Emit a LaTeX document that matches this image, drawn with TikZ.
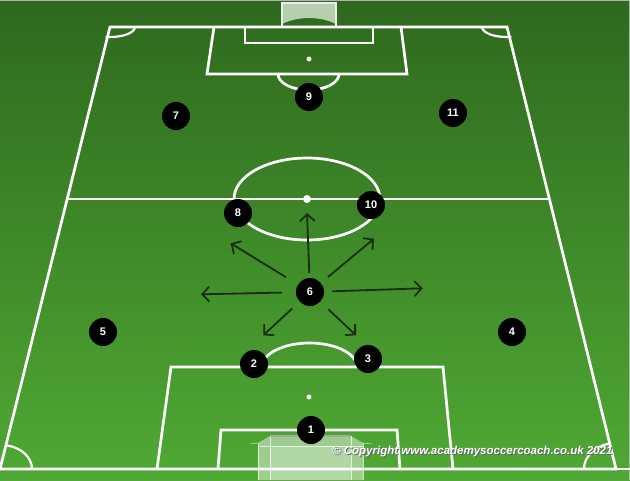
\documentclass[tikz,border=0pt]{standalone}
\usepackage{fontspec}
\setmainfont{Liberation Sans}
\usetikzlibrary{arrows.meta}
\definecolor{gtop}{HTML}{2E691E}
\definecolor{gmid}{HTML}{3A7F27}
\definecolor{gbot}{HTML}{50A934}
\definecolor{arr}{HTML}{17300F}
\definecolor{netc}{HTML}{B6D0AF}
\tikzset{
  pline/.style={draw=white,line width=2.7pt,line join=miter},
  player/.style={circle,fill=black,minimum size=28pt,inner sep=0pt,text=white,font=\fontsize{11}{11}\selectfont\bfseries},
  runarrow/.style={draw=arr,line width=1.8pt,-{Straight Barb[length=7pt,width=15pt,line width=1.8pt]}},
  spot/.style={circle,fill=white,inner sep=0pt,minimum size=5pt}
}
\begin{document}
\begin{tikzpicture}[x=1pt,y=-1pt]
\useasboundingbox (0,0) rectangle (630,480);
\shade[top color=gtop,middle color=gmid,bottom color=gbot] (0,0) rectangle (630,480);
\draw[gray!60,line width=1pt] (0,0.5) -- (630,0.5);
\draw[gray!60,line width=1pt] (629.5,0) -- (629.5,480);
% top goal
\fill[netc] (282,3) -- (336,3) -- (336,24) .. controls (320,16) and (298,16) .. (282,24) -- cycle;
\draw[white!85!gray,line width=1.8pt] (282,27) -- (282,3) -- (336,3) -- (336,27);
% pitch outline
\draw[pline] (110,27) -- (507,27) -- (616,469) -- (0,469) -- cycle;
\draw[pline] (0,469) -- (630,469);
\draw[pline] (68,199) -- (548,199);
\draw[pline] (307,199) ellipse [x radius=73, y radius=41];
\node[spot,minimum size=8pt] (cs) at (307,199) {};
% top boxes
\draw[pline] (214,27) -- (207,74) -- (407,74) -- (401,27);
\draw[pline] (245,27) -- (245,43) -- (373,43) -- (373,27);
\node[spot] (ts) at (309,59) {};
\draw[pline] (278,74) arc[start angle=180,end angle=0,x radius=30.5,y radius=16];
% bottom boxes
\draw[pline] (157,469) -- (171,367) -- (443,367) -- (453,469);
\draw[pline] (218,469) -- (221,430) -- (397,430) -- (400,469);
\node[spot] (bs) at (309,397) {};
\draw[pline] (262,367) arc[start angle=180,end angle=360,x radius=47.5,y radius=24];
% corner arcs
\draw[pline,line width=2.2pt] (135,27) arc[start angle=0,end angle=100,x radius=25,y radius=10];
\draw[pline,line width=2.2pt] (482,27) arc[start angle=180,end angle=80,x radius=25,y radius=10];
\draw[pline,line width=2.2pt] (32,469) arc[start angle=0,end angle=-80,x radius=31,y radius=24];
\draw[pline,line width=2.2pt] (584,469) arc[start angle=180,end angle=258,x radius=32,y radius=26];
% bottom goal
\fill[white,opacity=0.45] (258,443) -- (270,436) -- (351,436) -- (363,443) -- (363,480) -- (258,480) -- cycle;
\fill[white,opacity=0.2] (270,446) rectangle (351,480);
\draw[white,opacity=0.7,line width=1pt] (270,436) -- (270,480) (351,436) -- (351,480) (258,443) -- (258,480) (363,443) -- (363,480) (258,446) -- (363,446);
\draw[white,opacity=0.6,line width=0.6pt] (250,444) -- (258,443) (363,443) -- (372,444);
\draw[gray!70,line width=1.5pt] (270,436) -- (351,436);
% players
\node[player] (p9) at (309,97) {9};
\node[player] (p7) at (176,116) {7};
\node[player] (p11) at (453,113) {11};
\node[player] (p8) at (238,213) {8};
\node[player] (p10) at (371,205) {10};
\node[player] (p6) at (310,292) {6};
\node[player] (p5) at (103,332) {5};
\node[player] (p4) at (512,332) {4};
\node[player] (p2) at (254,364) {2};
\node[player] (p3) at (368,359) {3};
\node[player] (p1) at (311,430) {1};
% arrow ends
\coordinate (e1) at (307,213);
\coordinate (e2) at (230.7,243.3);
\coordinate (e3) at (374,238.7);
\coordinate (e4) at (201,294.3);
\coordinate (e5) at (422.7,288.3);
\coordinate (e6) at (263.3,335.3);
\coordinate (e7) at (356,335.3);
\draw[runarrow,shorten <=5pt] (p6) -- (e1);
\draw[runarrow,shorten <=14pt] (p6) -- (e2);
\draw[runarrow,shorten <=9pt] (p6) -- (e3);
\draw[runarrow,shorten <=14pt] (p6) -- (e4);
\draw[runarrow,shorten <=8pt] (p6) -- (e5);
\draw[runarrow,shorten <=10pt] (p6) -- (e6);
\draw[runarrow,shorten <=11pt] (p6) -- (e7);
% copyright
\node[anchor=west,inner sep=0pt,text=gray!80!black,font=\fontsize{11.5}{11.5}\selectfont\bfseries\itshape] (cpsh) at (333,453) {© Copyright www.academysoccercoach.co.uk 2021};
\node[anchor=west,inner sep=0pt,text=white,font=\fontsize{11.5}{11.5}\selectfont\bfseries\itshape] (cp) at (332,452) {© Copyright www.academysoccercoach.co.uk 2021};
\end{tikzpicture}
\end{document}
